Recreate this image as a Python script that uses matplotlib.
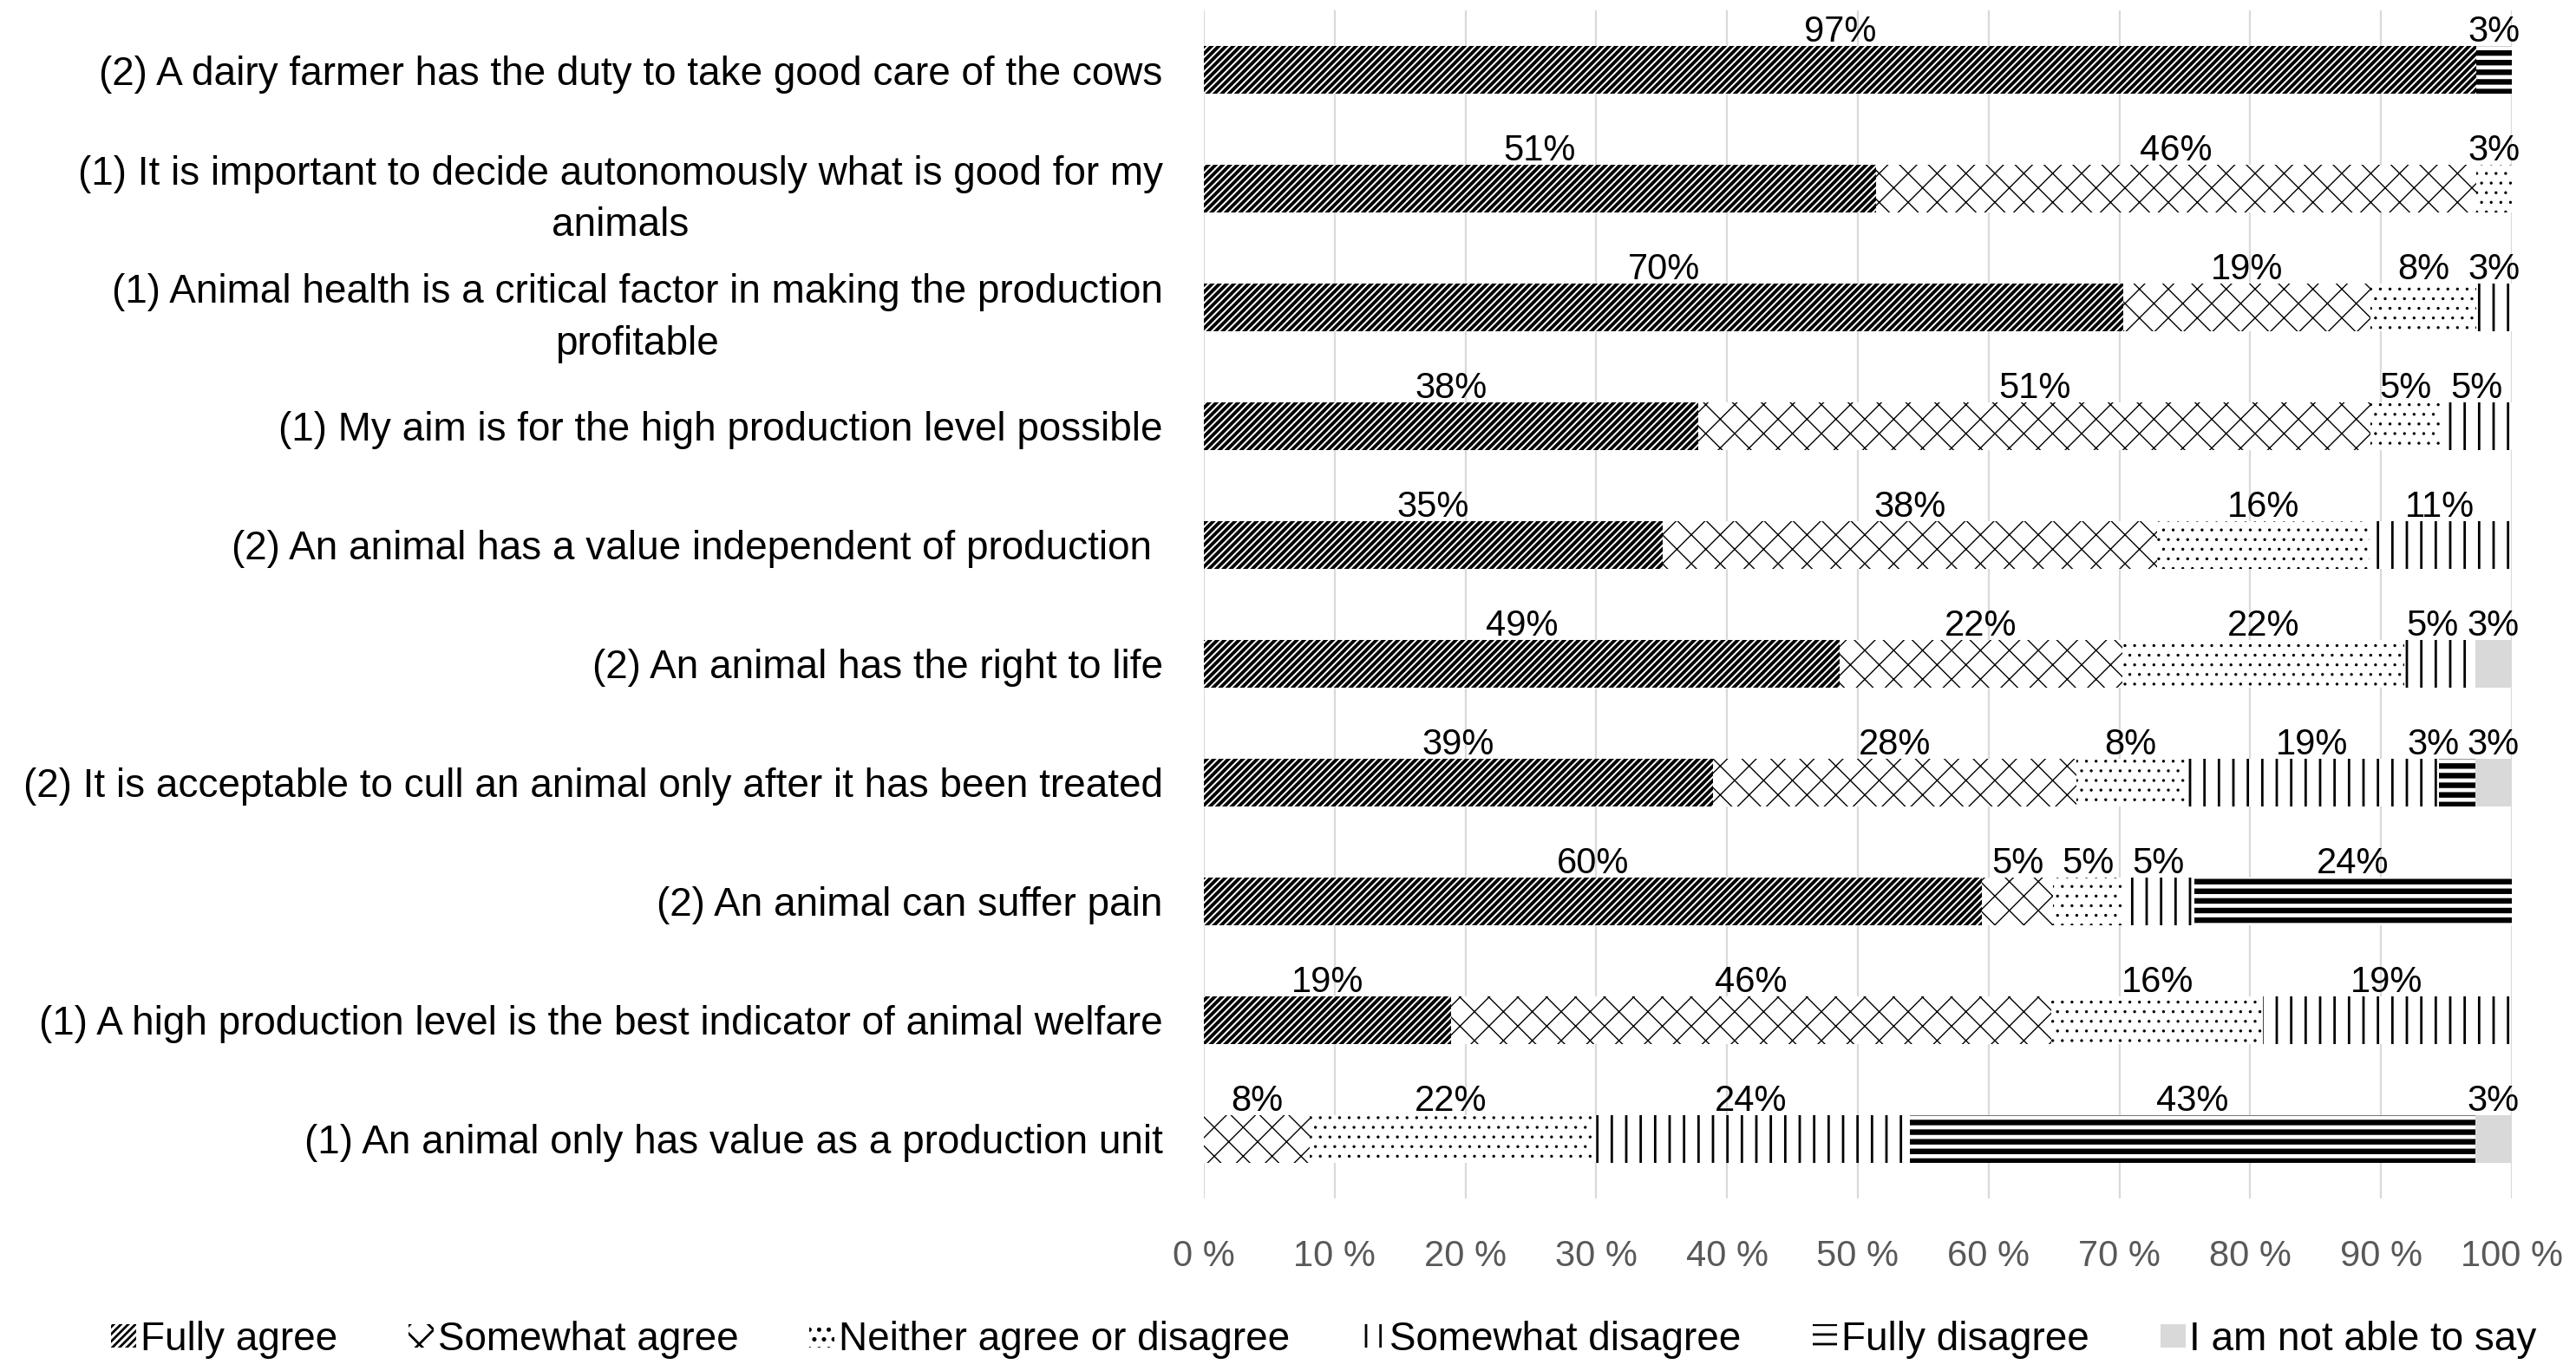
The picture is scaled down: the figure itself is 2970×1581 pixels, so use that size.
import numpy as np
import matplotlib
matplotlib.use("Agg")
import matplotlib.pyplot as plt

plt.rcParams['font.family'] = ['Liberation Sans', 'DejaVu Sans']

# statements, top to bottom
statements = [
    "(2) A dairy farmer has the duty to take good care of the cows",
    "(1) It is important to decide autonomously what is good for my\nanimals",
    "(1) Animal health is a critical factor in making the production\nprofitable",
    "(1) My aim is for the high production level possible",
    "(2) An animal has a value independent of production ",
    "(2) An animal has the right to life",
    "(2) It is acceptable to cull an animal only after it has been treated",
    "(2) An animal can suffer pain",
    "(1) A high production level is the best indicator of animal welfare",
    "(1) An animal only has value as a production unit",
]

categories = ["Fully agree", "Somewhat agree", "Neither agree or disagree",
              "Somewhat disagree", "Fully disagree", "I am not able to say"]

# shares in %
fully_agree       = [97.3, 51.4, 70.3, 37.8, 35.1, 48.6, 38.9, 59.5, 18.9, 0.0]
somewhat_agree    = [0.0, 45.9, 18.9, 51.4, 37.8, 21.6, 27.8, 5.4, 45.9, 8.1]
neither           = [0.0, 2.7, 8.1, 5.4, 16.2, 21.6, 8.3, 5.4, 16.2, 21.6]
somewhat_disagree = [0.0, 0.0, 2.7, 5.4, 10.8, 5.4, 19.4, 5.4, 18.9, 24.3]
fully_disagree    = [2.7, 0.0, 0.0, 0.0, 0.0, 0.0, 2.8, 24.3, 0.0, 43.2]
not_able          = [0.0, 0.0, 0.0, 0.0, 0.0, 2.7, 2.8, 0.0, 0.0, 2.7]

series = [fully_agree, somewhat_agree, neither, somewhat_disagree, fully_disagree, not_able]

# hatch, hatch line width, face colour
styles = [
    ("////////", 1.4, "white"),
    ("xx", 0.5, "white"),
    ("...", 0.4, "white"),
    ("||", 1.0, "white"),
    ("---", 2.3, "white"),
    (None, 0.0, "#d9d9d9"),
]

fig = plt.figure(figsize=(14.85, 7.905), dpi=200)
ax = fig.add_axes([0.4673, 0.1259, 0.5078, 0.8665])

y = np.arange(len(statements))
left = np.zeros(len(statements))
bar_h = 0.40
min_gap = 4.6  # minimum distance between label centres, in %

labels_per_row = [[] for _ in statements]
for vals, (hatch, hlw, fc), name in zip(series, styles, categories):
    vals = np.array(vals)
    bars = ax.barh(y, vals, left=left, height=bar_h, color=fc,
                   edgecolor="black" if hatch else fc, linewidth=0, hatch=hatch, label=name)
    for b in bars:
        if hasattr(b, "set_hatch_linewidth"):
            b.set_hatch_linewidth(hlw)
    for i, (l, v) in enumerate(zip(left, vals)):
        if v > 0:
            labels_per_row[i].append([l + v / 2, v])
    left = left + vals

# push crowded labels to the left so they don't run into each other
for i, labs in enumerate(labels_per_row):
    for k in range(len(labs) - 2, -1, -1):
        if labs[k + 1][0] - labs[k][0] < min_gap:
            labs[k][0] = labs[k + 1][0] - min_gap
    for xc, v in labs:
        ax.annotate(f"{v:.0f}%", (xc, y[i] - bar_h / 2), xytext=(0, 2),
                    textcoords="offset points", ha="center", va="baseline",
                    fontsize=15, color="black")

ax.set_xlim(0, 100)
ax.set_ylim(len(statements) - 0.5, -0.5)
ax.set_xticks(np.arange(0, 101, 10))
ax.set_xticklabels([f"{t} %" for t in range(0, 101, 10)], fontsize=15, color="#595959")
ax.set_yticks(y)
ax.set_yticklabels(statements, fontsize=16.5, multialignment="center", linespacing=1.45)
ax.tick_params(axis="x", length=0, pad=17)
ax.tick_params(axis="y", length=0, pad=17)
ax.grid(axis="x", color="#d9d9d9", linewidth=0.8)
ax.set_axisbelow(True)
for s in ax.spines.values():
    s.set_visible(False)

handles, labels = ax.get_legend_handles_labels()
fig.legend(handles, labels, loc="center", bbox_to_anchor=(0.514, 0.023), ncol=6,
           frameon=False, fontsize=16.5, handlelength=0.63, handleheight=0.55,
           handletextpad=0.1, columnspacing=1.79)

fig.savefig("out.png", dpi=200)
